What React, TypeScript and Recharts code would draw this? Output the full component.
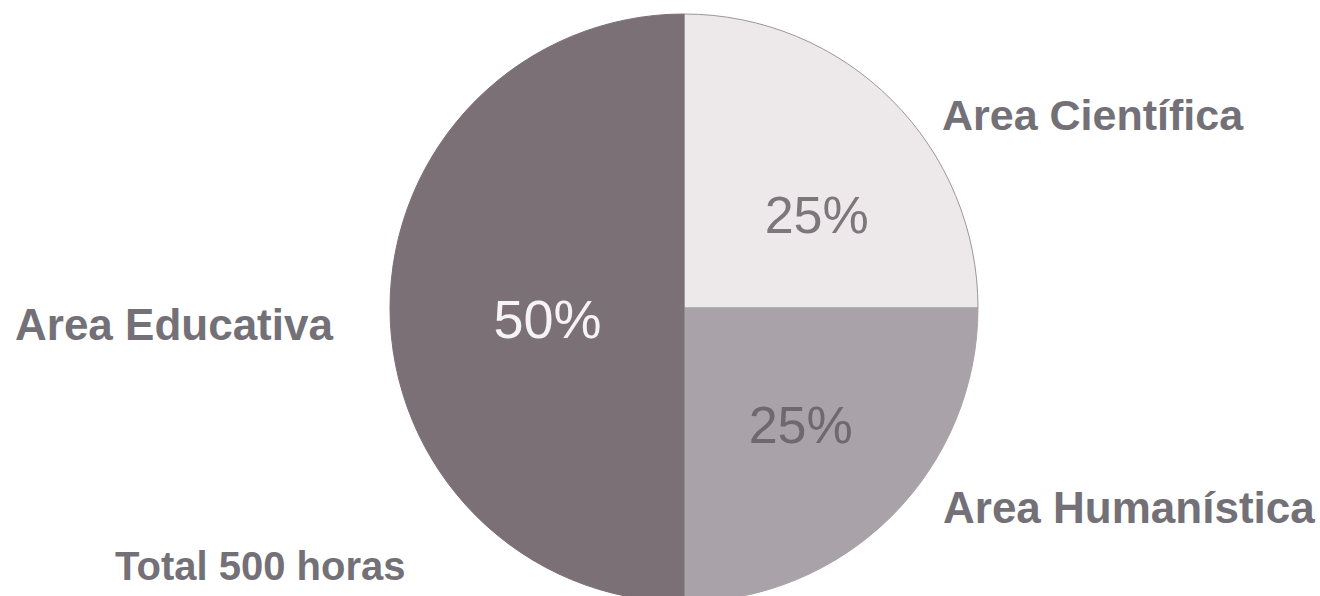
import { PieChart, Pie, Cell } from "recharts";

const areas = ["Area Científica", "Area Humanística", "Area Educativa"];
const shares = [25, 25, 50];
const totalLabel = "Total 500 horas";

const fills = ["#ede9ea", "#aaa2a9", "#7b7075"];
const strokes = ["#9c959a", "#aaa2a9", "#7b7075"];
const pctColors = ["#7d777c", "#6f686e", "#f6f3f4"];
// nudges for the percent labels (angle offset in degrees, radius)
const pctPlace: Record<string, { da: number; r: number; size: number }> = {
  "Area Científica": { da: -10, r: 162, size: 52 },
  "Area Humanística": { da: 0, r: 165, size: 52 },
  "Area Educativa": { da: 4.5, r: 137, size: 54 },
};

const data = areas.map((name, i) => ({ name, value: shares[i] }));

const RAD = Math.PI / 180;
const txt = "#747077";

function PctLabel(props: any) {
  const { cx, cy, midAngle, name, value, index } = props;
  const p = pctPlace[name];
  const a = (midAngle + p.da) * RAD;
  const x = cx + p.r * Math.cos(a);
  const y = cy - p.r * Math.sin(a);
  return (
    <text
      x={x}
      y={y}
      fill={pctColors[index]}
      textAnchor="middle"
      dominantBaseline="central"
      fontFamily="Liberation Sans, Arial, sans-serif"
      fontSize={p.size}
    >
      {value}%
    </text>
  );
}

export default function App() {
  return (
    <div style={{ position: "absolute", left: 0, top: 0, width: 1320, height: 596, overflow: "hidden", background: "#fff" }}>
      <PieChart width={1320} height={596} margin={{ top: 0, right: 0, bottom: 0, left: 0 }}>
        <Pie
          data={data}
          dataKey="value"
          nameKey="name"
          cx={684}
          cy={308}
          outerRadius={294}
          startAngle={90}
          endAngle={-270}
          label={PctLabel}
          labelLine={false}
          isAnimationActive={false}
        >
          {data.map((d, i) => (
            <Cell key={d.name} fill={fills[i]} stroke={strokes[i]} strokeWidth={1} />
          ))}
        </Pie>
      </PieChart>
      <svg width={1320} height={596} style={{ position: "absolute", left: 0, top: 0, pointerEvents: "none" }}>
        <g fontFamily="Liberation Sans, Arial, sans-serif" fontWeight="bold" fill={txt}>
          <text x={942} y={130} fontSize={43}>{areas[0]}</text>
          <text x={943} y={523} fontSize={44}>{areas[1]}</text>
          <text x={15} y={340} fontSize={44}>{areas[2]}</text>
          <text x={115} y={580} fontSize={40}>{totalLabel}</text>
        </g>
      </svg>
    </div>
  );
}
